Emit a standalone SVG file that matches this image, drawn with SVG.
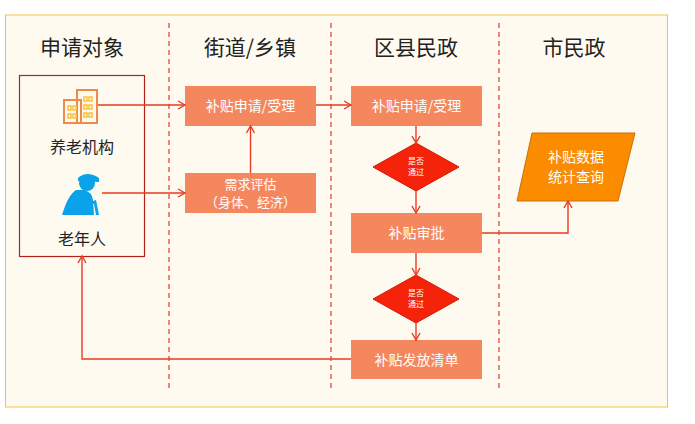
<svg xmlns="http://www.w3.org/2000/svg" width="695" height="424" viewBox="0 0 695 424">
<style>
.h{font-family:"Noto Sans CJK SC","Liberation Sans",sans-serif;font-size:21px;fill:#222;text-anchor:middle}
.l{font-family:"Noto Sans CJK SC","Liberation Sans",sans-serif;font-size:16px;fill:#222;text-anchor:middle}
.t{font-family:"Noto Sans CJK SC","Liberation Sans",sans-serif;font-size:14px;fill:#fff;text-anchor:middle}
.t2{font-family:"Noto Sans CJK SC","Liberation Sans",sans-serif;font-size:13px;fill:#fff;text-anchor:middle}
.s{font-family:"Noto Sans CJK SC","Liberation Sans",sans-serif;font-size:8px;fill:#fff;text-anchor:middle}
.b{fill:#f5875e}
.d{fill:#f5230a;stroke:#d01a05}
.c{fill:none;stroke:#ea3a22;stroke-width:1.4}
.dash{stroke:#e2392a;stroke-width:1.2;stroke-dasharray:5,4}
</style>
<defs><marker id="a" markerWidth="10" markerHeight="10" refX="8" refY="5" orient="auto" markerUnits="userSpaceOnUse"><path d="M1,1 L8,5 L1,9" fill="none" stroke="#ea3a22" stroke-width="1.4"/></marker></defs>
<rect width="695" height="424" fill="#fff"/>
<rect x="5.5" y="15" width="662" height="392" fill="#fffaf0" stroke="#f5c242" stroke-width="1"/>
<line class="dash" x1="169" y1="23" x2="169" y2="392"/>
<line class="dash" x1="331" y1="23" x2="331" y2="392"/>
<line class="dash" x1="499" y1="23" x2="499" y2="392"/>
<text class="h" x="82" y="55">申请对象</text>
<text class="h" x="250" y="55">街道/乡镇</text>
<text class="h" x="416" y="55">区县民政</text>
<text class="h" x="574" y="55">市民政</text>
<g id="applicants">
<rect x="19.5" y="75.5" width="125" height="181" fill="none" stroke="#b3231a" stroke-width="1.2"/>
<g fill="none" stroke="#f08a4b" stroke-width="2">
<rect x="64" y="100" width="17" height="23"/><rect x="77" y="90" width="20" height="33"/>
</g>
<g fill="none" stroke="#fcc543" stroke-width="1.6">
<rect x="68" y="106" width="3" height="4"/><rect x="73" y="106" width="3" height="4"/><rect x="68" y="114" width="3" height="4"/><rect x="73" y="114" width="3" height="4"/>
<rect x="84" y="97" width="3" height="4"/><rect x="89" y="97" width="3" height="4"/><rect x="84" y="105" width="3" height="4"/><rect x="89" y="105" width="3" height="4"/><rect x="84" y="113" width="3" height="4"/><rect x="89" y="113" width="3" height="4"/>
</g>
<text class="l" x="82" y="153">养老机构</text>
<g fill="#0aa2e8">
<circle cx="87" cy="183" r="8"/><path d="M78,178 Q87,170 99,178 L99,182 L78,181 Z"/>
<path d="M76,190 Q68,195 62,215 L94,215 L93,200 Q92,192 84,190 Z"/>
<path d="M90,202 L96,200 L99,215 L96,215 L94,204 Z"/>
</g>
<text class="l" x="82" y="245">老年人</text>
</g>
<g id="n1"><rect class="b" x="185" y="86" width="131" height="40"/><text class="t" x="250.5" y="111">补贴申请/受理</text></g>
<g id="n2"><rect class="b" x="185" y="173" width="131" height="40"/><text class="t2" x="250.5" y="189">需求评估</text><text class="t2" x="250.5" y="207">（身体、经济）</text></g>
<g id="n3"><rect class="b" x="351" y="86" width="131" height="40"/><text class="t" x="416.5" y="111">补贴申请/受理</text></g>
<g id="d1"><polygon class="d" points="416,143 459,167 416,191 373,167"/><text class="s" x="416" y="164">是否</text><text class="s" x="416" y="175">通过</text></g>
<g id="n4"><rect class="b" x="351" y="213" width="131" height="40"/><text class="t" x="416.5" y="238">补贴审批</text></g>
<g id="d2"><polygon class="d" points="416,275 459,299 416,323 373,299"/><text class="s" x="416" y="296">是否</text><text class="s" x="416" y="307">通过</text></g>
<g id="n5"><rect class="b" x="351" y="340" width="131" height="39"/><text class="t" x="416.5" y="365">补贴发放清单</text></g>
<g id="n6"><polygon points="532,133 635,133 618,201 517,201" fill="#fb8c00" stroke="#c8700a"/><text class="t" x="576" y="162">补贴数据</text><text class="t" x="576" y="182">统计查询</text></g>
<g id="connectors">
<path class="c" d="M98,105 H185" marker-end="url(#a)"/>
<path class="c" d="M102,193 H185" marker-end="url(#a)"/>
<path class="c" d="M250.5,173 V126" marker-end="url(#a)"/>
<path class="c" d="M316,105 H351" marker-end="url(#a)"/>
<path class="c" d="M416,126 V143" marker-end="url(#a)"/>
<path class="c" d="M416,191 V213" marker-end="url(#a)"/>
<path class="c" d="M416,253 V275" marker-end="url(#a)"/>
<path class="c" d="M416,323 V340" marker-end="url(#a)"/>
<path class="c" d="M482,233 H568 V201" marker-end="url(#a)"/>
<path class="c" d="M351,359 H82 V256" marker-end="url(#a)"/>
</g>
</svg>
